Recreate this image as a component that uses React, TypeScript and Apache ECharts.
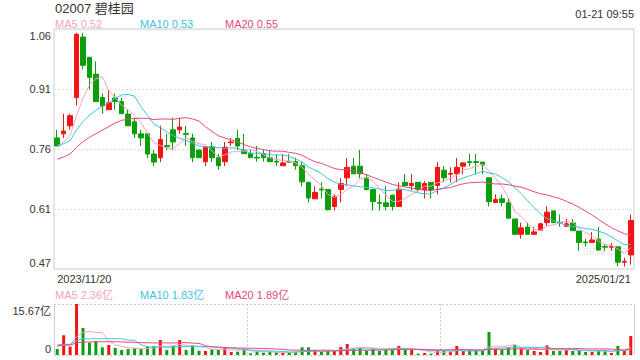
import React, { useEffect, useRef } from "react";
import * as echarts from "echarts";

// ---- data ----
const opens = [
  0.79, 0.80, 0.82, 0.89, 1.04, 0.99, 0.948, 0.89, 0.86, 0.889,
  0.88, 0.849, 0.83, 0.80, 0.80, 0.75, 0.741, 0.771, 0.81, 0.81,
  0.801, 0.79, 0.76, 0.731, 0.768, 0.741, 0.731, 0.778, 0.789, 0.76,
  0.751, 0.742, 0.751, 0.741, 0.732, 0.721, 0.732, 0.731, 0.721, 0.68,
  0.639, 0.663, 0.662, 0.62, 0.662, 0.691, 0.72, 0.72, 0.691, 0.662,
  0.630, 0.629, 0.648, 0.62, 0.68, 0.672, 0.68, 0.662, 0.68, 0.672,
  0.71, 0.700, 0.701, 0.72, 0.731, 0.731, 0.73, 0.691, 0.63, 0.639,
  0.629, 0.589, 0.551, 0.569, 0.551, 0.561, 0.58, 0.609, 0.581, 0.571,
  0.579, 0.559, 0.532, 0.531, 0.539, 0.521, 0.519, 0.52, 0.482, 0.50,
];
const closes = [
  0.77, 0.807, 0.845, 1.047, 0.97, 0.94, 0.88, 0.869, 0.877, 0.88,
  0.85, 0.82, 0.80, 0.79, 0.75, 0.73, 0.786, 0.768, 0.78, 0.817,
  0.799, 0.741, 0.741, 0.768, 0.741, 0.721, 0.767, 0.780, 0.77, 0.751,
  0.741, 0.740, 0.741, 0.731, 0.730, 0.728, 0.730, 0.721, 0.681, 0.641,
  0.655, 0.661, 0.612, 0.645, 0.677, 0.717, 0.701, 0.701, 0.662, 0.632,
  0.628, 0.62, 0.62, 0.663, 0.672, 0.677, 0.662, 0.677, 0.662, 0.717,
  0.691, 0.702, 0.717, 0.728, 0.729, 0.729, 0.723, 0.632, 0.637, 0.63,
  0.591, 0.551, 0.567, 0.551, 0.557, 0.577, 0.606, 0.58, 0.579, 0.577,
  0.56, 0.531, 0.530, 0.537, 0.512, 0.519, 0.521, 0.482, 0.484, 0.585,
];
const lows = [
  0.77, 0.79, 0.81, 0.87, 0.96, 0.91, 0.88, 0.85, 0.86, 0.86,
  0.85, 0.82, 0.79, 0.77, 0.74, 0.72, 0.73, 0.76, 0.76, 0.80,
  0.77, 0.73, 0.741, 0.72, 0.73, 0.711, 0.72, 0.77, 0.76, 0.751,
  0.741, 0.731, 0.731, 0.731, 0.72, 0.721, 0.728, 0.711, 0.67, 0.63,
  0.639, 0.64, 0.61, 0.61, 0.63, 0.67, 0.70, 0.69, 0.66, 0.61,
  0.61, 0.61, 0.61, 0.62, 0.67, 0.66, 0.657, 0.64, 0.64, 0.65,
  0.68, 0.68, 0.68, 0.70, 0.72, 0.70, 0.70, 0.62, 0.63, 0.62,
  0.59, 0.551, 0.54, 0.551, 0.551, 0.561, 0.572, 0.58, 0.57, 0.57,
  0.56, 0.51, 0.52, 0.531, 0.51, 0.51, 0.51, 0.472, 0.471, 0.476,
];
const highs = [
  0.81, 0.85, 0.85, 1.05, 1.05, 0.99, 0.98, 0.90, 0.908, 0.90,
  0.889, 0.86, 0.84, 0.81, 0.80, 0.76, 0.82, 0.80, 0.84, 0.84,
  0.82, 0.80, 0.76, 0.768, 0.78, 0.75, 0.78, 0.79, 0.81, 0.80,
  0.76, 0.77, 0.76, 0.76, 0.75, 0.75, 0.75, 0.741, 0.731, 0.68,
  0.67, 0.68, 0.662, 0.65, 0.69, 0.74, 0.74, 0.76, 0.70, 0.662,
  0.65, 0.67, 0.65, 0.68, 0.70, 0.70, 0.68, 0.683, 0.68, 0.73,
  0.72, 0.717, 0.74, 0.73, 0.75, 0.75, 0.73, 0.691, 0.65, 0.65,
  0.64, 0.589, 0.58, 0.58, 0.569, 0.58, 0.62, 0.609, 0.60, 0.589,
  0.589, 0.559, 0.54, 0.557, 0.569, 0.527, 0.53, 0.52, 0.493, 0.60,
];
// volumes, in 亿
const volumes = [
  1.84, 6.1, 2.56, 15.67, 8.3, 3.8, 4.3, 2.36, 3.07, 2.15,
  1.54, 1.84, 2.05, 1.84, 2.56, 2.76, 4.6, 1.54, 2.76, 4.6,
  1.54, 2.97, 1.33, 1.23, 1.74, 1.54, 2.25, 0.92, 1.02, 1.95,
  0.5, 0.92, 0.72, 0.92, 0.92, 0.61, 0.72, 1.02, 2.36, 2.36,
  1.23, 0.92, 1.23, 1.43, 2.46, 3.38, 1.95, 2.36, 1.33, 1.95,
  1.23, 1.74, 1.74, 2.76, 1.64, 1.64, 0.41, 0.61, 0.41, 1.54,
  1.23, 1.02, 2.76, 1.23, 1.54, 1.43, 1.23, 7.07, 1.95, 1.54,
  2.36, 3.07, 1.95, 1.54, 1.23, 0.92, 2.97, 1.23, 1.23, 1.54,
  1.23, 1.54, 0.92, 0.92, 1.33, 1.23, 0.61, 2.76, 1.33, 5.84,
];
// estimated history before the first visible bar (for moving averages)
const priorCloses = [
  0.69, 0.70, 0.71, 0.70, 0.72, 0.70, 0.69, 0.71, 0.70, 0.72,
  0.75, 0.77, 0.78, 0.76, 0.79, 0.757, 0.765, 0.797, 0.761,
];
const priorVolumes = [
  2.5, 3.1, 2.2, 2.8, 3.4, 2.6, 2.9, 2.3, 2.7, 3.0,
  3.5, 2.9, 3.8, 3.2, 4.0, 3.6, 2.4, 2.9, 2.2,
];
const maPeriods = [5, 10, 20];
const priceTickLabels = ["0.47", "0.61", "0.76", "0.91", "1.06"];
const volumeTickLabels = ["0", "15.67亿"];
const dateLabels = ["2023/11/20", "2025/01/21"];
const titleText = "02007 碧桂园";
const timeText = "01-21 09:55";
const priceLegend = ["MA5 0.52", "MA10 0.53", "MA20 0.55"];
const volumeLegend = ["MA5 2.36亿", "MA10 1.83亿", "MA20 1.89亿"];

const UP = "#f31414";
const DOWN = "#0a9e0a";
const MA_COLORS = ["#f7a1bf", "#3ec4e0", "#e8487e"];
const FONT = "Arial, 'Liberation Sans', 'Noto Sans CJK SC', sans-serif";

function movingAverage(hist: number[], vals: number[], n: number): number[] {
  const all = hist.concat(vals);
  return vals.map((_, i) => {
    const end = hist.length + i;
    let s = 0;
    for (let k = end - n + 1; k <= end; k++) s += all[k];
    return +(s / n).toFixed(4);
  });
}

export default function App() {
  const ref = useRef<HTMLDivElement>(null);
  useEffect(() => {
    if (!ref.current) return;
    const chart = echarts.init(ref.current, undefined, { renderer: "svg" });
    const N = closes.length;
    const cats = closes.map((_, i) => String(i));
    const candleData = opens.map((o, i) => [o, closes[i], lows[i], highs[i]]);
    const volData = volumes.map((v, i) => ({
      value: v,
      itemStyle: { color: closes[i] >= opens[i] ? UP : DOWN },
    }));
    const legendX = [55, 140, 225];

    const graphic: any[] = [
      {
        type: "text", x: 55, y: 8, z: 10,
        style: { text: titleText, fill: "#333", font: `13px ${FONT}`, textVerticalAlign: "middle" },
      },
      {
        type: "text", x: 634, y: 14, z: 10,
        style: { text: timeText, fill: "#333", font: `11px ${FONT}`, textAlign: "right", textVerticalAlign: "middle" },
      },
      {
        type: "text", x: 583, y: 251, z: 0,
        style: { text: "sina.com", fill: "rgba(0,0,0,0.12)", font: `12px ${FONT}`, textVerticalAlign: "middle" },
      },
    ];
    priceLegend.forEach((t, i) =>
      graphic.push({
        type: "text", x: legendX[i], y: 24, z: 10,
        style: { text: t, fill: MA_COLORS[i], font: `11px ${FONT}`, textVerticalAlign: "middle" },
      })
    );
    volumeLegend.forEach((t, i) =>
      graphic.push({
        type: "text", x: legendX[i], y: 295, z: 10,
        style: { text: t, fill: MA_COLORS[i], font: `11px ${FONT}`, textVerticalAlign: "middle" },
      })
    );

    const edgeRich = {
      top: { padding: [14, 0, 0, 0], fontSize: 11, color: "#333", fontFamily: FONT },
      bot: { padding: [0, 0, 13, 0], fontSize: 11, color: "#333", fontFamily: FONT },
    };

    const priceMA = maPeriods.map((p, k) => ({
      type: "line",
      xAxisIndex: 0,
      yAxisIndex: 0,
      data: movingAverage(priorCloses, closes, p),
      showSymbol: false,
      symbol: "none",
      z: 5,
      lineStyle: { width: 1, color: MA_COLORS[k] },
    }));
    const volMA = maPeriods.map((p, k) => ({
      type: "line",
      xAxisIndex: 1,
      yAxisIndex: 1,
      data: movingAverage(priorVolumes, volumes, p),
      showSymbol: false,
      symbol: "none",
      z: 5,
      lineStyle: { width: 1, color: MA_COLORS[k] },
    }));

    chart.setOption({
      animation: false,
      backgroundColor: "#fff",
      textStyle: { fontFamily: FONT },
      graphic,
      grid: [
        { left: 54, top: 29, width: 580, height: 240, show: true, borderColor: "#ccc", borderWidth: 1 },
        { left: 54, top: 304, width: 580, height: 51 },
      ],
      xAxis: [
        {
          type: "category", gridIndex: 0, data: cats, boundaryGap: true,
          axisLine: { show: false }, axisTick: { show: false }, splitLine: { show: false },
          axisLabel: {
            show: true,
            interval: (i: number) => i === 0 || i === N - 1,
            formatter: (_v: string, i: number) => (i === 0 ? dateLabels[0] : dateLabels[1]),
            alignMinLabel: "left", alignMaxLabel: "right",
            margin: 4, fontSize: 11, color: "#333", fontFamily: FONT,
          },
        },
        {
          type: "category", gridIndex: 1, data: cats, boundaryGap: true,
          axisLine: { show: false }, axisTick: { show: false }, axisLabel: { show: false },
          splitLine: {
            show: true,
            interval: (i: number) => i === 30 || i === 60,
            lineStyle: { type: [2, 2], color: "#ccc", width: 1 },
          },
        },
      ],
      yAxis: [
        {
          type: "value", gridIndex: 0, min: 0.465, max: 1.06, interval: 0.14875, scale: true,
          axisLine: { show: false }, axisTick: { show: false },
          splitLine: { show: true, lineStyle: { type: [2, 2], color: "#dcdcdc", width: 1 } },
          axisLabel: {
            margin: 3, fontSize: 11, color: "#333", fontFamily: FONT,
            formatter: (_v: number, i: number) => {
              const t = priceTickLabels[i] ?? "";
              if (i === 0) return `{bot|${t}}`;
              if (i === priceTickLabels.length - 1) return `{top|${t}}`;
              return t;
            },
            rich: edgeRich,
          },
        },
        {
          type: "value", gridIndex: 1, min: 0, max: 15.67, interval: 15.67,
          axisLine: { show: true, lineStyle: { color: "#ccc" } }, axisTick: { show: false },
          splitLine: { show: true, lineStyle: { type: [2, 2], color: "#ccc", width: 1 } },
          axisLabel: {
            margin: 3, fontSize: 11, color: "#333", fontFamily: FONT,
            formatter: (_v: number, i: number) => {
              const t = volumeTickLabels[i] ?? "";
              return i === 0 ? `{bot|${t}}` : `{top|${t}}`;
            },
            rich: edgeRich,
          },
        },
        {
          type: "value", gridIndex: 1, position: "right", min: 0, max: 15.67,
          axisLine: { show: true, onZero: false, lineStyle: { color: "#ccc" } },
          axisTick: { show: false }, axisLabel: { show: false }, splitLine: { show: false },
        },
      ],
      series: [
        {
          type: "candlestick",
          xAxisIndex: 0,
          yAxisIndex: 0,
          data: candleData,
          barWidth: 5,
          z: 3,
          itemStyle: { color: UP, color0: DOWN, borderColor: UP, borderColor0: DOWN, borderWidth: 1 },
        },
        ...priceMA,
        {
          type: "bar",
          xAxisIndex: 1,
          yAxisIndex: 1,
          data: volData,
          barWidth: 3,
          z: 3,
        },
        ...volMA,
      ],
    });
    return () => chart.dispose();
  }, []);
  return (
    <div
      ref={ref}
      style={{ position: "absolute", left: 0, top: 0, width: 640, height: 360, background: "#fff" }}
    />
  );
}
